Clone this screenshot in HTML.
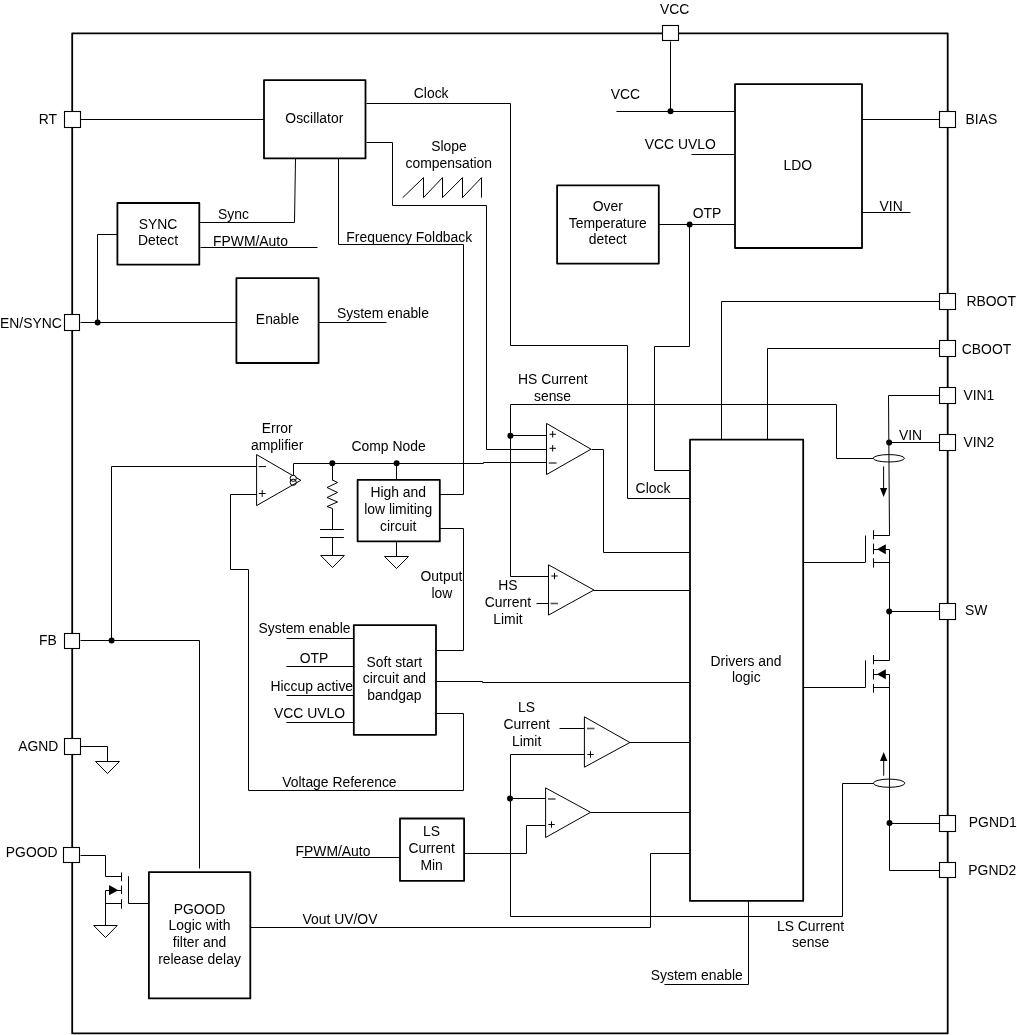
<!DOCTYPE html>
<html><head><meta charset="utf-8"><style>
html,body{margin:0;padding:0;background:#fff;}
svg{display:block;}
text{font-family:"Liberation Sans",sans-serif;fill:#000;}
</style></head><body>
<svg width="1017" height="1035" viewBox="0 0 1017 1035">
<rect x="0" y="0" width="1017" height="1035" fill="#fff"/>
<rect x="72.2" y="33.3" width="875.5" height="1000" fill="none" stroke="#000" stroke-width="1.8" stroke-linejoin="round"/>
<polyline points="80.5,119.5 264.5,119.5" fill="none" stroke="#000" stroke-width="1"/>
<polyline points="80.5,322.5 236.5,322.5" fill="none" stroke="#000" stroke-width="1"/>
<polyline points="97.5,322.5 97.5,234.5 117.5,234.5" fill="none" stroke="#000" stroke-width="1"/>
<circle cx="97.6" cy="322.5" r="3.0" fill="#000"/>
<polyline points="200,222.5 294.5,222.5 295.5,158" fill="none" stroke="#000" stroke-width="1"/>
<polyline points="200.5,247.5 317.5,247.5" fill="none" stroke="#000" stroke-width="1"/>
<polyline points="366.5,103.5 510.5,103.5 510.5,345.5 627.5,345.5 627.5,498.5 690.5,498.5" fill="none" stroke="#000" stroke-width="1"/>
<polyline points="366.5,142.5 392.5,142.5 392.5,205.5 486.5,205.5 486.5,449.5 546.5,449.5" fill="none" stroke="#000" stroke-width="1"/>
<polyline points="402.8,197.6 423.5,177.6 423.5,197.6 442.5,177.6 442.5,197.6 462.5,177.6 462.5,197.6 481.5,177.6 481.5,197.6" fill="none" stroke="#000" stroke-width="1"/>
<polyline points="338.5,158.5 338.5,244.5 463.5,244.5 463.5,494.5 439.5,494.5" fill="none" stroke="#000" stroke-width="1"/>
<polyline points="439.5,528.5 463.5,528.5 463.5,650.5 436.5,650.5" fill="none" stroke="#000" stroke-width="1"/>
<polyline points="436.5,713.5 463.5,713.5 463.5,790.5 248.5,790.5 248.5,569.5 230.5,569.5 230.5,494.5 256.5,494.5" fill="none" stroke="#000" stroke-width="1"/>
<polyline points="436.5,681.5 482.5,681.5 482.5,682.5 690.5,682.5" fill="none" stroke="#000" stroke-width="1"/>
<polyline points="286.5,638.5 353.5,638.5" fill="none" stroke="#000" stroke-width="1"/>
<polyline points="286.5,666.5 353.5,666.5" fill="none" stroke="#000" stroke-width="1"/>
<polyline points="286.5,695.5 353.5,695.5" fill="none" stroke="#000" stroke-width="1"/>
<polyline points="286.5,722.5 353.5,722.5" fill="none" stroke="#000" stroke-width="1"/>
<polyline points="670.5,41.5 670.5,111.5" fill="none" stroke="#000" stroke-width="1"/>
<polyline points="616.5,111.5 735.5,111.5" fill="none" stroke="#000" stroke-width="1"/>
<circle cx="670.5" cy="111.3" r="3.0" fill="#000"/>
<polyline points="691.5,154.5 736.5,154.5" fill="none" stroke="#000" stroke-width="1"/>
<polyline points="658.5,224.5 735.5,224.5" fill="none" stroke="#000" stroke-width="1"/>
<circle cx="689.6" cy="224.6" r="3.0" fill="#000"/>
<polyline points="689.5,224.5 689.5,346.5 654.5,346.5 654.5,470.5 690.5,470.5" fill="none" stroke="#000" stroke-width="1"/>
<polyline points="862.5,119.5 940.5,119.5" fill="none" stroke="#000" stroke-width="1"/>
<polyline points="862.5,212.5 910.5,212.5" fill="none" stroke="#000" stroke-width="1"/>
<polyline points="940.5,301.5 721.5,301.5 721.5,439.5" fill="none" stroke="#000" stroke-width="1"/>
<polyline points="940.5,348.5 767.5,348.5 767.5,439.5" fill="none" stroke="#000" stroke-width="1"/>
<polyline points="940.5,395.5 888.5,395.5" fill="none" stroke="#000" stroke-width="1"/>
<polyline points="888.5,395.5 889.5,535.5 873.5,535.5" fill="none" stroke="#000" stroke-width="1"/>
<polyline points="940.5,442.5 888.5,442.5" fill="none" stroke="#000" stroke-width="1"/>
<circle cx="889.1" cy="442.5" r="3.0" fill="#000"/>
<polyline points="873.5,458.5 836.5,458.5 836.5,404.5 510.5,404.5 510.5,576.5 548.5,576.5" fill="none" stroke="#000" stroke-width="1"/>
<circle cx="510.4" cy="435.8" r="3.0" fill="#000"/>
<polyline points="510.5,435.5 546.5,435.5" fill="none" stroke="#000" stroke-width="1"/>
<ellipse cx="888.8" cy="458.3" rx="15.6" ry="3.7" fill="none" stroke="#000" stroke-width="1"/>
<line x1="883.6" y1="466.4" x2="883.6" y2="490" stroke="#000" stroke-width="1"/>
<polygon points="880,488 887.2,488 883.6,497" fill="#000" stroke="none"/>
<polyline points="591.5,449.5 603.5,449.5 603.5,552.5 690.5,552.5" fill="none" stroke="#000" stroke-width="1"/>
<polyline points="293.5,475.5 293.5,463.5 483.5,463.5 483.5,462.5 546.6,462.5" fill="none" stroke="#000" stroke-width="1"/>
<circle cx="332.3" cy="463.3" r="3.0" fill="#000"/>
<circle cx="396.6" cy="463.3" r="3.0" fill="#000"/>
<polyline points="332.5,463.5 332.5,480.5" fill="none" stroke="#000" stroke-width="1"/>
<polyline points="332.5,480 337.5,482.5 327,487.5 337.5,492.5 327,497.5 337.5,502 327,506.5 332.5,508.5 332.5,529.3" fill="none" stroke="#000" stroke-width="1"/>
<line x1="320.1" y1="529.5" x2="343.8" y2="529.5" stroke="#000" stroke-width="1"/>
<line x1="320.1" y1="537.5" x2="343.8" y2="537.5" stroke="#000" stroke-width="1"/>
<polyline points="332.5,537.5 332.5,555.5" fill="none" stroke="#000" stroke-width="1"/>
<polygon points="320.7,555.5 344.3,555.5 332.5,567.5" fill="#fff" stroke="#000" stroke-width="1"/>
<polyline points="396.5,463.5 396.5,480.5" fill="none" stroke="#000" stroke-width="1"/>
<polyline points="396.5,541.5 396.5,556.5" fill="none" stroke="#000" stroke-width="1"/>
<polygon points="384.5,556.5 408.5,556.5 396.5,568.5" fill="#fff" stroke="#000" stroke-width="1"/>
<polyline points="111.5,640.5 111.5,466.5 256.5,466.5" fill="none" stroke="#000" stroke-width="1"/>
<polyline points="80.5,640.5 199.5,640.5 199.5,868.5" fill="none" stroke="#000" stroke-width="1"/>
<circle cx="111.6" cy="640.6" r="3.0" fill="#000"/>
<polyline points="80.5,746.5 107.5,746.5 107.5,761.5" fill="none" stroke="#000" stroke-width="1"/>
<polygon points="95.5,761.5 119.5,761.5 107.5,773.5" fill="#fff" stroke="#000" stroke-width="1"/>
<polyline points="80.5,855.5 105.5,855.5 105.5,876.5 121.5,876.5" fill="none" stroke="#000" stroke-width="1"/>
<polyline points="105.5,890.5 121.5,890.5" fill="none" stroke="#000" stroke-width="1"/>
<polyline points="105.5,890.5 105.5,925.5" fill="none" stroke="#000" stroke-width="1"/>
<polyline points="105.5,903.5 121.5,903.5" fill="none" stroke="#000" stroke-width="1"/>
<polygon points="109,885 109,895.3 118.3,890.2" fill="#000" stroke="none"/>
<line x1="121.5" y1="872.4" x2="121.5" y2="881.3" stroke="#000" stroke-width="1"/>
<line x1="121.5" y1="885.7" x2="121.5" y2="894.1" stroke="#000" stroke-width="1"/>
<line x1="121.5" y1="899.2" x2="121.5" y2="908.7" stroke="#000" stroke-width="1"/>
<line x1="128.5" y1="876.2" x2="128.5" y2="903.6" stroke="#000" stroke-width="1"/>
<polyline points="128.5,903.5 149.5,903.5" fill="none" stroke="#000" stroke-width="1"/>
<polygon points="93.7,925.5 117.3,925.5 105.5,937.5" fill="#fff" stroke="#000" stroke-width="1"/>
<polyline points="536.5,603.5 548.5,603.5" fill="none" stroke="#000" stroke-width="1"/>
<polyline points="593.5,590.5 690.5,590.5" fill="none" stroke="#000" stroke-width="1"/>
<polyline points="873.5,535.5 889.5,535.5" fill="none" stroke="#000" stroke-width="1"/>
<polyline points="873.5,549.5 889.5,549.5" fill="none" stroke="#000" stroke-width="1"/>
<polyline points="873.5,562.5 889.5,562.5" fill="none" stroke="#000" stroke-width="1"/>
<line x1="873.5" y1="530.2" x2="873.5" y2="539.3" stroke="#000" stroke-width="1"/>
<line x1="873.5" y1="543.6" x2="873.5" y2="554.2" stroke="#000" stroke-width="1"/>
<line x1="873.5" y1="558.4" x2="873.5" y2="567.6" stroke="#000" stroke-width="1"/>
<line x1="865.5" y1="535.5" x2="865.5" y2="562.3" stroke="#000" stroke-width="1"/>
<polyline points="803.5,562.5 865.5,562.5" fill="none" stroke="#000" stroke-width="1"/>
<polygon points="877,549.3 885.8,544.3 885.8,554.3" fill="#000" stroke="none"/>
<polyline points="873.5,660.5 889.5,660.5" fill="none" stroke="#000" stroke-width="1"/>
<polyline points="873.5,674.5 889.5,674.5" fill="none" stroke="#000" stroke-width="1"/>
<polyline points="873.5,687.5 889.5,687.5" fill="none" stroke="#000" stroke-width="1"/>
<line x1="873.5" y1="655.1" x2="873.5" y2="664.3" stroke="#000" stroke-width="1"/>
<line x1="873.5" y1="669" x2="873.5" y2="679.6" stroke="#000" stroke-width="1"/>
<line x1="873.5" y1="683.8" x2="873.5" y2="692.7" stroke="#000" stroke-width="1"/>
<line x1="865.5" y1="660.4" x2="865.5" y2="687.4" stroke="#000" stroke-width="1"/>
<polyline points="803.5,687.5 865.5,687.5" fill="none" stroke="#000" stroke-width="1"/>
<polygon points="877,674.2 885.8,669.2 885.8,679.2" fill="#000" stroke="none"/>
<polyline points="889.5,549.5 889.5,660.5" fill="none" stroke="#000" stroke-width="1"/>
<polyline points="889.5,674.5 889.5,870.5 940.5,870.5" fill="none" stroke="#000" stroke-width="1"/>
<circle cx="889.2" cy="611.6" r="3.0" fill="#000"/>
<polyline points="889.5,611.5 940.5,611.5" fill="none" stroke="#000" stroke-width="1"/>
<circle cx="889.5" cy="823" r="3.0" fill="#000"/>
<polyline points="889.5,823.5 940.5,823.5" fill="none" stroke="#000" stroke-width="1"/>
<ellipse cx="889.1" cy="783.2" rx="15.7" ry="4.1" fill="none" stroke="#000" stroke-width="1"/>
<line x1="883.7" y1="760" x2="883.7" y2="775.7" stroke="#000" stroke-width="1"/>
<polygon points="880,761 887.4,761 883.7,752" fill="#000" stroke="none"/>
<polyline points="873.5,783.5 842.5,783.5 842.5,916.5 510.5,916.5 510.5,754.5 584.5,754.5" fill="none" stroke="#000" stroke-width="1"/>
<circle cx="510" cy="798.6" r="3.0" fill="#000"/>
<polyline points="510.5,798.5 545.5,798.5" fill="none" stroke="#000" stroke-width="1"/>
<polyline points="559.5,728.5 584.5,728.5" fill="none" stroke="#000" stroke-width="1"/>
<polyline points="629.5,742.5 690.5,742.5" fill="none" stroke="#000" stroke-width="1"/>
<polyline points="590.5,812.5 690.5,812.5" fill="none" stroke="#000" stroke-width="1"/>
<polyline points="464.5,853.5 526.5,853.5 526.5,825.5 545.5,825.5" fill="none" stroke="#000" stroke-width="1"/>
<polyline points="302.5,857.5 400.5,857.5" fill="none" stroke="#000" stroke-width="1"/>
<polyline points="250.5,927.5 650.5,927.5 650.5,853.5 690.5,853.5" fill="none" stroke="#000" stroke-width="1"/>
<polyline points="748.5,900.5 748.5,984.5 664.5,984.5" fill="none" stroke="#000" stroke-width="1"/>
<polyline points="318.5,322.5 386.5,322.5" fill="none" stroke="#000" stroke-width="1"/>
<polygon points="256.6,454.6 256.6,505.6 300.9,480.3" fill="#fff" stroke="#000" stroke-width="1"/>
<polygon points="546.5,423.4 546.5,474.6 591,449.2" fill="#fff" stroke="#000" stroke-width="1"/>
<polygon points="548.5,564.8 548.5,615.1 593.9,590" fill="#fff" stroke="#000" stroke-width="1"/>
<polygon points="584.4,716.8 584.4,767.2 629.9,742.5" fill="#fff" stroke="#000" stroke-width="1"/>
<polygon points="545.6,787.9 545.6,837.5 590.6,812.3" fill="#fff" stroke="#000" stroke-width="1"/>
<circle cx="293.2" cy="478.3" r="3.1" fill="#fff" stroke="#000" stroke-width="1"/>
<circle cx="293.2" cy="482.3" r="3.1" fill="none" stroke="#000" stroke-width="1"/>
<line x1="258.6" y1="466.6" x2="266" y2="466.6" stroke="#000" stroke-width="1"/>
<line x1="258.8" y1="493.5" x2="265.6" y2="493.5" stroke="#000" stroke-width="1"/>
<line x1="262.2" y1="490.1" x2="262.2" y2="496.9" stroke="#000" stroke-width="1"/>
<line x1="549.5" y1="434.3" x2="555.9" y2="434.3" stroke="#000" stroke-width="1"/>
<line x1="552.7" y1="431.1" x2="552.7" y2="437.5" stroke="#000" stroke-width="1"/>
<line x1="549.5" y1="448.3" x2="555.9" y2="448.3" stroke="#000" stroke-width="1"/>
<line x1="552.7" y1="445.1" x2="552.7" y2="451.5" stroke="#000" stroke-width="1"/>
<line x1="548.8" y1="463" x2="556.5" y2="463" stroke="#555" stroke-width="1.6"/>
<line x1="551.3" y1="576" x2="557.7" y2="576" stroke="#000" stroke-width="1"/>
<line x1="554.5" y1="572.8" x2="554.5" y2="579.2" stroke="#000" stroke-width="1"/>
<line x1="550.5" y1="603.5" x2="558" y2="603.5" stroke="#555" stroke-width="1.6"/>
<line x1="587" y1="728.5" x2="594.5" y2="728.5" stroke="#555" stroke-width="1.6"/>
<line x1="587.3" y1="754.5" x2="593.7" y2="754.5" stroke="#000" stroke-width="1"/>
<line x1="590.5" y1="751.3" x2="590.5" y2="757.7" stroke="#000" stroke-width="1"/>
<line x1="548" y1="799" x2="555.5" y2="799" stroke="#555" stroke-width="1.6"/>
<line x1="548.3" y1="824.5" x2="554.7" y2="824.5" stroke="#000" stroke-width="1"/>
<line x1="551.5" y1="821.3" x2="551.5" y2="827.7" stroke="#000" stroke-width="1"/>
<rect x="264" y="80.2" width="101.50" height="78.20" fill="#fff" stroke="#000" stroke-width="1.8" stroke-linejoin="round"/>
<rect x="117.4" y="203" width="81.90" height="61.70" fill="#fff" stroke="#000" stroke-width="1.8" stroke-linejoin="round"/>
<rect x="236.4" y="278.1" width="82.20" height="84.90" fill="#fff" stroke="#000" stroke-width="1.8" stroke-linejoin="round"/>
<rect x="557.1" y="185.4" width="101.70" height="78.20" fill="#fff" stroke="#000" stroke-width="1.8" stroke-linejoin="round"/>
<rect x="735" y="84.2" width="127.00" height="163.80" fill="#fff" stroke="#000" stroke-width="1.8" stroke-linejoin="round"/>
<rect x="357.6" y="479.9" width="82.20" height="61.50" fill="#fff" stroke="#000" stroke-width="1.8" stroke-linejoin="round"/>
<rect x="353.8" y="625.2" width="82.20" height="109.60" fill="#fff" stroke="#000" stroke-width="1.8" stroke-linejoin="round"/>
<rect x="400" y="818.5" width="64.10" height="62.40" fill="#fff" stroke="#000" stroke-width="1.8" stroke-linejoin="round"/>
<rect x="148.9" y="872.2" width="101.40" height="126.20" fill="#fff" stroke="#000" stroke-width="1.8" stroke-linejoin="round"/>
<rect x="690" y="439.7" width="113.20" height="461.20" fill="#fff" stroke="#000" stroke-width="1.8" stroke-linejoin="round"/>
<rect x="662.5" y="25.5" width="16" height="15" fill="#fff" stroke="#000" stroke-width="1.1"/>
<rect x="64.5" y="111.5" width="16" height="16" fill="#fff" stroke="#000" stroke-width="1.1"/>
<rect x="64.5" y="314.5" width="15" height="16" fill="#fff" stroke="#000" stroke-width="1.1"/>
<rect x="64.5" y="633.5" width="15" height="15" fill="#fff" stroke="#000" stroke-width="1.1"/>
<rect x="64.5" y="738.5" width="16" height="16" fill="#fff" stroke="#000" stroke-width="1.1"/>
<rect x="63.5" y="847.5" width="16" height="15" fill="#fff" stroke="#000" stroke-width="1.1"/>
<rect x="939.5" y="111.5" width="16" height="16" fill="#fff" stroke="#000" stroke-width="1.1"/>
<rect x="939.5" y="293.5" width="16" height="16" fill="#fff" stroke="#000" stroke-width="1.1"/>
<rect x="939.5" y="340.5" width="16" height="16" fill="#fff" stroke="#000" stroke-width="1.1"/>
<rect x="939.5" y="387.5" width="16" height="16" fill="#fff" stroke="#000" stroke-width="1.1"/>
<rect x="939.5" y="434.5" width="16" height="16" fill="#fff" stroke="#000" stroke-width="1.1"/>
<rect x="939.5" y="603.5" width="16" height="16" fill="#fff" stroke="#000" stroke-width="1.1"/>
<rect x="939.5" y="815.5" width="16" height="16" fill="#fff" stroke="#000" stroke-width="1.1"/>
<rect x="939.5" y="862.5" width="16" height="15" fill="#fff" stroke="#000" stroke-width="1.1"/>
<g style="will-change:transform">
<text transform="translate(659.9,14.3) scale(1,1.03)" text-anchor="start" font-size="13.9">VCC</text>
<text transform="translate(57,124) scale(1,1.03)" text-anchor="end" font-size="13.9">RT</text>
<text transform="translate(61.8,327.5) scale(1,1.03)" text-anchor="end" font-size="13.9">EN/SYNC</text>
<text transform="translate(56.8,645.4) scale(1,1.03)" text-anchor="end" font-size="13.9">FB</text>
<text transform="translate(58.3,751.2) scale(1,1.03)" text-anchor="end" font-size="13.9">AGND</text>
<text transform="translate(57.6,856.9) scale(1,1.03)" text-anchor="end" font-size="13.9">PGOOD</text>
<text transform="translate(314.3,122.5) scale(1,1.03)" text-anchor="middle" font-size="13.9">Oscillator</text>
<text transform="translate(413.8,97.7) scale(1,1.03)" text-anchor="start" font-size="13.9">Clock</text>
<text transform="translate(449,151) scale(1,1.03)" text-anchor="middle" font-size="13.9">Slope</text>
<text transform="translate(448.8,167.5) scale(1,1.03)" text-anchor="middle" font-size="13.9">compensation</text>
<text transform="translate(158,229) scale(1,1.03)" text-anchor="middle" font-size="13.9">SYNC</text>
<text transform="translate(158,245.3) scale(1,1.03)" text-anchor="middle" font-size="13.9">Detect</text>
<text transform="translate(218,219) scale(1,1.03)" text-anchor="start" font-size="13.9">Sync</text>
<text transform="translate(213,245.5) scale(1,1.03)" text-anchor="start" font-size="13.9">FPWM/Auto</text>
<text transform="translate(346.3,241.9) scale(1,1.03)" text-anchor="start" font-size="13.9">Frequency Foldback</text>
<text transform="translate(277.5,324.4) scale(1,1.03)" text-anchor="middle" font-size="13.9">Enable</text>
<text transform="translate(337,317.8) scale(1,1.03)" text-anchor="start" font-size="13.9">System enable</text>
<text transform="translate(607.8,211) scale(1,1.03)" text-anchor="middle" font-size="13.9">Over</text>
<text transform="translate(607.8,227.5) scale(1,1.03)" text-anchor="middle" font-size="13.9">Temperature</text>
<text transform="translate(607.8,244) scale(1,1.03)" text-anchor="middle" font-size="13.9">detect</text>
<text transform="translate(797.8,169.9) scale(1,1.03)" text-anchor="middle" font-size="13.9">LDO</text>
<text transform="translate(610.7,98.7) scale(1,1.03)" text-anchor="start" font-size="13.9">VCC</text>
<text transform="translate(644.8,148.7) scale(1,1.03)" text-anchor="start" font-size="13.9">VCC UVLO</text>
<text transform="translate(692.8,217.6) scale(1,1.03)" text-anchor="start" font-size="13.9">OTP</text>
<text transform="translate(965.5,124) scale(1,1.03)" text-anchor="start" font-size="13.9">BIAS</text>
<text transform="translate(879.6,211) scale(1,1.03)" text-anchor="start" font-size="13.9">VIN</text>
<text transform="translate(966.5,306) scale(1,1.03)" text-anchor="start" font-size="13.9">RBOOT</text>
<text transform="translate(961.8,353.5) scale(1,1.03)" text-anchor="start" font-size="13.9">CBOOT</text>
<text transform="translate(963.4,399.8) scale(1,1.03)" text-anchor="start" font-size="13.9">VIN1</text>
<text transform="translate(963.4,446.7) scale(1,1.03)" text-anchor="start" font-size="13.9">VIN2</text>
<text transform="translate(898.9,439.9) scale(1,1.03)" text-anchor="start" font-size="13.9">VIN</text>
<text transform="translate(965,615.3) scale(1,1.03)" text-anchor="start" font-size="13.9">SW</text>
<text transform="translate(968.8,827.3) scale(1,1.03)" text-anchor="start" font-size="13.9">PGND1</text>
<text transform="translate(968.3,875) scale(1,1.03)" text-anchor="start" font-size="13.9">PGND2</text>
<text transform="translate(277.2,432.9) scale(1,1.03)" text-anchor="middle" font-size="13.9">Error</text>
<text transform="translate(277.2,449.8) scale(1,1.03)" text-anchor="middle" font-size="13.9">amplifier</text>
<text transform="translate(351.5,450.6) scale(1,1.03)" text-anchor="start" font-size="13.9">Comp Node</text>
<text transform="translate(398.2,497.2) scale(1,1.03)" text-anchor="middle" font-size="13.9">High and</text>
<text transform="translate(398.2,513.9) scale(1,1.03)" text-anchor="middle" font-size="13.9">low limiting</text>
<text transform="translate(398.2,530.6) scale(1,1.03)" text-anchor="middle" font-size="13.9">circuit</text>
<text transform="translate(552.8,383.8) scale(1,1.03)" text-anchor="middle" font-size="13.9">HS Current</text>
<text transform="translate(552.5,400.7) scale(1,1.03)" text-anchor="middle" font-size="13.9">sense</text>
<text transform="translate(635.6,492.6) scale(1,1.03)" text-anchor="start" font-size="13.9">Clock</text>
<text transform="translate(441.4,581.2) scale(1,1.03)" text-anchor="middle" font-size="13.9">Output</text>
<text transform="translate(441.8,597.7) scale(1,1.03)" text-anchor="middle" font-size="13.9">low</text>
<text transform="translate(507.9,590.4) scale(1,1.03)" text-anchor="middle" font-size="13.9">HS</text>
<text transform="translate(507.9,607) scale(1,1.03)" text-anchor="middle" font-size="13.9">Current</text>
<text transform="translate(507.9,623.6) scale(1,1.03)" text-anchor="middle" font-size="13.9">Limit</text>
<text transform="translate(258.6,632.5) scale(1,1.03)" text-anchor="start" font-size="13.9">System enable</text>
<text transform="translate(299.8,662.7) scale(1,1.03)" text-anchor="start" font-size="13.9">OTP</text>
<text transform="translate(270.4,691.3) scale(1,1.03)" text-anchor="start" font-size="13.9">Hiccup active</text>
<text transform="translate(274,717.6) scale(1,1.03)" text-anchor="start" font-size="13.9">VCC UVLO</text>
<text transform="translate(394.4,667) scale(1,1.03)" text-anchor="middle" font-size="13.9">Soft start</text>
<text transform="translate(394.4,683.4) scale(1,1.03)" text-anchor="middle" font-size="13.9">circuit and</text>
<text transform="translate(394.4,699.8) scale(1,1.03)" text-anchor="middle" font-size="13.9">bandgap</text>
<text transform="translate(746,665.7) scale(1,1.03)" text-anchor="middle" font-size="13.9">Drivers and</text>
<text transform="translate(746.3,682.2) scale(1,1.03)" text-anchor="middle" font-size="13.9">logic</text>
<text transform="translate(526.6,711.8) scale(1,1.03)" text-anchor="middle" font-size="13.9">LS</text>
<text transform="translate(526.6,728.7) scale(1,1.03)" text-anchor="middle" font-size="13.9">Current</text>
<text transform="translate(526.6,745.6) scale(1,1.03)" text-anchor="middle" font-size="13.9">Limit</text>
<text transform="translate(282.2,787.3) scale(1,1.03)" text-anchor="start" font-size="13.9">Voltage Reference</text>
<text transform="translate(431.6,836.4) scale(1,1.03)" text-anchor="middle" font-size="13.9">LS</text>
<text transform="translate(431.6,852.95) scale(1,1.03)" text-anchor="middle" font-size="13.9">Current</text>
<text transform="translate(431.6,869.5) scale(1,1.03)" text-anchor="middle" font-size="13.9">Min</text>
<text transform="translate(295.5,855.8) scale(1,1.03)" text-anchor="start" font-size="13.9">FPWM/Auto</text>
<text transform="translate(302.5,924.4) scale(1,1.03)" text-anchor="start" font-size="13.9">Vout UV/OV</text>
<text transform="translate(199.5,913.9) scale(1,1.03)" text-anchor="middle" font-size="13.9">PGOOD</text>
<text transform="translate(199.5,930.45) scale(1,1.03)" text-anchor="middle" font-size="13.9">Logic with</text>
<text transform="translate(199.5,947) scale(1,1.03)" text-anchor="middle" font-size="13.9">filter and</text>
<text transform="translate(199.5,963.55) scale(1,1.03)" text-anchor="middle" font-size="13.9">release delay</text>
<text transform="translate(810.5,931) scale(1,1.03)" text-anchor="middle" font-size="13.9">LS Current</text>
<text transform="translate(810.6,947) scale(1,1.03)" text-anchor="middle" font-size="13.9">sense</text>
<text transform="translate(650.8,979.7) scale(1,1.03)" text-anchor="start" font-size="13.9">System enable</text>
</g>
</svg>
</body></html>
